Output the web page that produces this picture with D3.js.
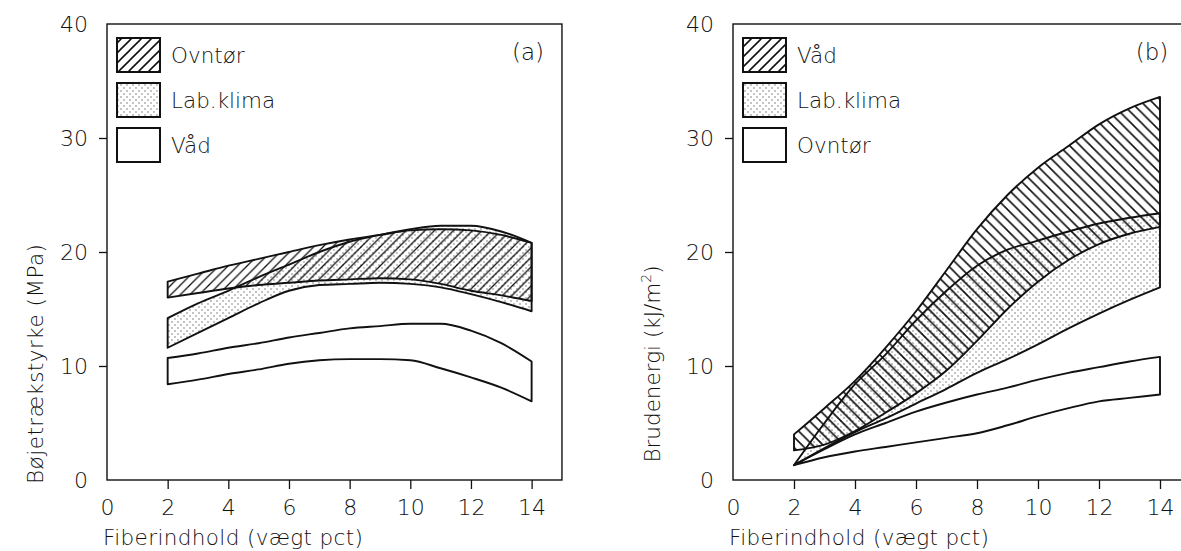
<!DOCTYPE html>
<html><head><meta charset="utf-8">
<script src="https://cdn.jsdelivr.net/npm/d3@7"></script>
<style>
body{margin:0;background:#fff;}
svg{display:block;}
text{font-family:"DejaVu Sans",sans-serif;font-weight:200;fill:#111;}
</style></head>
<body>
<svg id="chart" width="1181" height="551"></svg>
<script>
// ---------- data ----------
const xs = [2,3,4,5,6,7,8,9,10,11,12,13,14];
const xTicks = [0,2,4,6,8,10,12,14];
const yTicks = [0,10,20,30,40];

// panel (a) Bøjetrækstyrke (MPa)
const aOvntorTop = [17.4,18.1,18.8,19.4,20.0,20.6,21.1,21.5,21.9,22.0,21.9,21.5,20.8];
const aOvntorBot = [16.0,16.4,16.8,17.1,17.3,17.5,17.6,17.7,17.6,17.2,16.6,16.2,15.7];
const aLabTop    = [14.2,15.5,16.6,17.8,18.9,20.0,20.9,21.5,22.0,22.3,22.3,21.8,20.8];
const aLabBot    = [11.6,12.9,14.2,15.5,16.6,17.1,17.2,17.3,17.2,16.9,16.3,15.6,14.8];
const aVadTop    = [10.7,11.1,11.6,12.0,12.5,12.9,13.3,13.5,13.7,13.7,13.1,12.0,10.4];
const aVadBot    = [8.4,8.8,9.3,9.7,10.2,10.5,10.6,10.6,10.5,9.8,9.0,8.1,6.9];

// panel (b) Brudenergi (kJ/m2)
const bVadTop    = [4.0,6.3,8.7,11.6,14.8,18.4,22.0,25.0,27.4,29.3,31.2,32.6,33.6];
const bVadBot    = [2.6,3.1,4.3,5.9,7.6,9.6,12.2,15.0,17.4,19.3,20.7,21.6,22.2];
const bLabTop    = [1.3,5.0,8.4,11.0,14.0,16.6,18.8,20.2,21.0,21.8,22.5,23.0,23.4];
const bLabBot    = [1.3,2.8,4.2,5.4,6.7,8.0,9.4,10.6,11.9,13.3,14.6,15.8,16.9];
const bOvnTop    = [1.3,2.7,4.0,5.0,6.0,6.8,7.5,8.1,8.8,9.4,9.9,10.4,10.8];
const bOvnBot    = [1.3,2.0,2.5,2.9,3.3,3.7,4.1,4.8,5.6,6.3,6.9,7.2,7.5];

const svg = d3.select("#chart");
const defs = svg.append("defs");

// patterns
function hatch(id, dir, size, sw){
  const p = defs.append("pattern").attr("id",id).attr("patternUnits","userSpaceOnUse")
    .attr("width",size).attr("height",size);
  const d = dir>0
    ? `M0,${size} L${size},0 M${-size/2},${size/2} L${size/2},${-size/2} M${size/2},${size*1.5} L${size*1.5},${size/2}`
    : `M0,0 L${size},${size} M${-size/2},${size/2} L${size/2},${size*1.5} M${size/2},${-size/2} L${size*1.5},${size/2}`;
  p.append("path").attr("d",d).attr("stroke","#111").attr("stroke-width",sw).attr("fill","none");
}
hatch("hatchUp",1,9.5,1.3);
hatch("hatchLeg",1,10,1.6);
hatch("hatchDown",-1,10.5,1.6);
const dp = defs.append("pattern").attr("id","dots").attr("patternUnits","userSpaceOnUse")
  .attr("width",6).attr("height",6);
dp.append("circle").attr("cx",1).attr("cy",1).attr("r",0.65).attr("fill","#555");
dp.append("circle").attr("cx",4).attr("cy",4).attr("r",0.65).attr("fill","#555");

function panel(cfg){
  const g = svg.append("g");
  const x = d3.scaleLinear().domain([0,15]).range([cfg.left, cfg.left + 15*cfg.ux]);
  const y = d3.scaleLinear().domain([0,40]).range([480,24]);

  const areaOf = b => {
    const data = xs.map((v,i)=>({x:v, t:b.top[i], b:b.bot[i]}));
    return d3.area().x(d=>x(d.x)).y0(d=>y(d.b)).y1(d=>y(d.t)).curve(d3.curveMonotoneX)(data);
  };
  cfg.bands.forEach(b=>{
    g.append("path").attr("d",areaOf(b)).attr("fill",b.fill).attr("stroke","none");
  });
  cfg.bands.forEach(b=>{
    g.append("path").attr("d",areaOf(b)).attr("fill","none")
      .attr("stroke","#111").attr("stroke-width",1.9).attr("stroke-linejoin","round");
  });

  // frame
  g.append("rect").attr("x",x(0)).attr("y",y(40)).attr("width",x(15)-x(0)).attr("height",y(0)-y(40))
    .attr("fill","none").attr("stroke","#111").attr("stroke-width",1.4);

  // axes
  const xa = d3.axisBottom(x).tickValues(xTicks).tickSize(9).tickPadding(7).tickFormat(d3.format("d"));
  const xg = g.append("g").attr("transform",`translate(0,${y(0)})`).call(xa);
  xg.select(".domain").remove();
  xg.selectAll(".tick line").attr("stroke","#111").attr("stroke-width",1.3)
    .filter(d=>d===0).remove();
  xg.selectAll(".tick text").attr("font-size",22).attr("fill","#111")
    .attr("font-family","DejaVu Sans, sans-serif").attr("font-weight",200).attr("dy","0.85em");

  const ya = d3.axisLeft(y).tickValues(yTicks).tickSize(8).tickPadding(11).tickFormat(d3.format("d"));
  const yg = g.append("g").attr("transform",`translate(${x(0)},0)`).call(ya);
  yg.select(".domain").remove();
  yg.selectAll(".tick line").attr("stroke","#111").attr("stroke-width",1.3)
    .filter(d=>d===0||d===40).remove();
  yg.selectAll(".tick text").attr("font-size",22).attr("fill","#111")
    .attr("font-family","DejaVu Sans, sans-serif").attr("font-weight",200);

  // axis titles
  g.append("text").attr("x",cfg.left-4).attr("y",545).attr("font-size",21.5)
    .attr("textLength",260).attr("lengthAdjust","spacing")
    .text("Fiberindhold (vægt pct)");
  const yt = g.append("text").attr("transform",`translate(${cfg.ytx},364) rotate(-90)`)
    .attr("text-anchor","middle").attr("font-size",21.5);
  cfg.ytitle(yt);

  // panel tag
  g.append("text").attr("x",cfg.tagX).attr("y",60).attr("text-anchor","middle")
    .attr("font-size",23).text(cfg.tag);

  // legend
  cfg.legend.forEach((l,i)=>{
    const by = 38 + i*45;
    g.append("rect").attr("x",x(0)+10).attr("y",by).attr("width",43).attr("height",34)
      .attr("fill",l.fill).attr("stroke","#111").attr("stroke-width",2);
    g.append("text").attr("x",x(0)+64).attr("y",by+25).attr("font-size",21.5).text(l.name);
  });
}

panel({
  left:107, ux:30.33, tag:"(a)", tagX:528, ytx:43,
  ytitle: t=>t.attr("textLength",240).attr("lengthAdjust","spacing").text("Bøjetrækstyrke (MPa)"),
  bands:[
    {top:aVadTop, bot:aVadBot, fill:"#fff"},
    {top:aLabTop, bot:aLabBot, fill:"url(#dots)"},
    {top:aOvntorTop, bot:aOvntorBot, fill:"url(#hatchUp)"}
  ],
  legend:[
    {name:"Ovntør", fill:"url(#hatchLeg)"},
    {name:"Lab.klima", fill:"url(#dots)"},
    {name:"Våd", fill:"#fff"}
  ]
});

panel({
  left:733, ux:30.5, tag:"(b)", tagX:1152, ytx:660,
  ytitle: t=>{
    t.append("tspan").text("Brudenergi (kJ/m");
    t.append("tspan").attr("font-size",14).attr("dy",-9).text("2");
    t.append("tspan").attr("dy",9).text(")");
  },
  bands:[
    {top:bOvnTop, bot:bOvnBot, fill:"#fff"},
    {top:bLabTop, bot:bLabBot, fill:"url(#dots)"},
    {top:bVadTop, bot:bVadBot, fill:"url(#hatchDown)"}
  ],
  legend:[
    {name:"Våd", fill:"url(#hatchLeg)"},
    {name:"Lab.klima", fill:"url(#dots)"},
    {name:"Ovntør", fill:"#fff"}
  ]
});
</script>
</body></html>
